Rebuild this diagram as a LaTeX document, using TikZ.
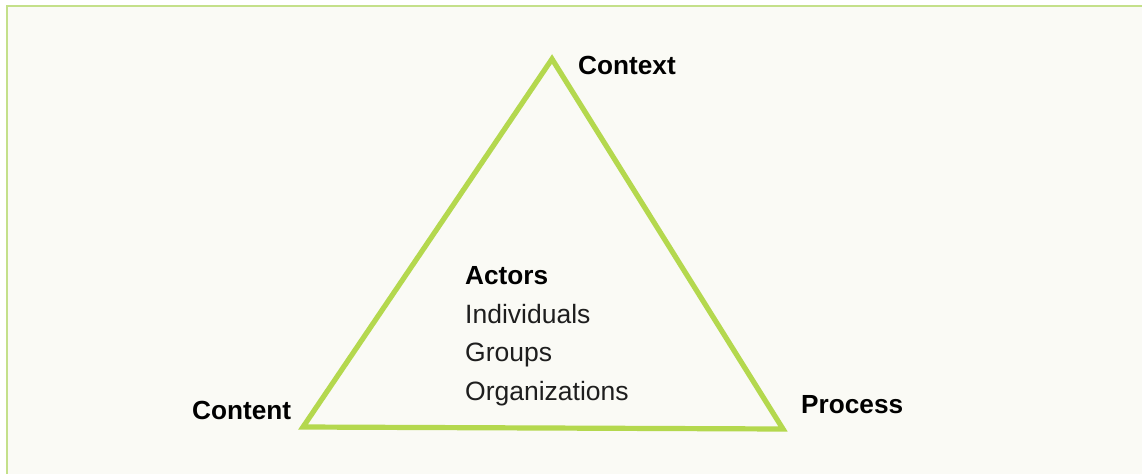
\documentclass[tikz,border=0pt]{standalone}
\usepackage{fontspec}
\setmainfont{Liberation Sans}
\definecolor{paper}{HTML}{FAFAF5}
\definecolor{framegreen}{HTML}{C4E08A}
\definecolor{trigreen}{HTML}{B4D84E}
\definecolor{bodytext}{HTML}{1E1E1E}
\begin{document}
\begin{tikzpicture}[x=1pt,y=-1pt,
  corner/.style={font=\fontsize{26.2}{30}\selectfont\bfseries, text=black, inner sep=0pt, anchor=base west},
  heading/.style={font=\fontsize{26.2}{30}\selectfont\bfseries, text=black, inner sep=0pt, anchor=base west},
  item/.style={font=\fontsize{26.5}{30}\selectfont, text=bodytext, inner sep=0pt, anchor=base west},
  edge/.style={draw=trigreen, line width=5.2pt, line join=miter}]
\useasboundingbox (0,0) rectangle (1142,474);
% panel background and its top/left rules
\fill[paper] (7,6) rectangle (1142,474);
\draw[framegreen, line width=2pt] (7,474) -- (7,6) -- (1142,6);
% triangle corners
\coordinate (top) at (552,59);
\coordinate (left) at (303,427);
\coordinate (right) at (783,429);
\draw[edge] (top) -- (right) -- (left) -- cycle;
% corner labels
\node[corner] (context) at (578,74) {Context};
\node[corner] (content) at (192,419) {Content};
\node[corner] (process) at (801,413) {Process};
% centre list
\node[heading] (actors) at (465,284) {Actors};
\node[item] (individuals) at (465,323) {Individuals};
\node[item] (groups) at (465,361) {Groups};
\node[item] (orgs) at (465,400) {Organizations};
\end{tikzpicture}
\end{document}
